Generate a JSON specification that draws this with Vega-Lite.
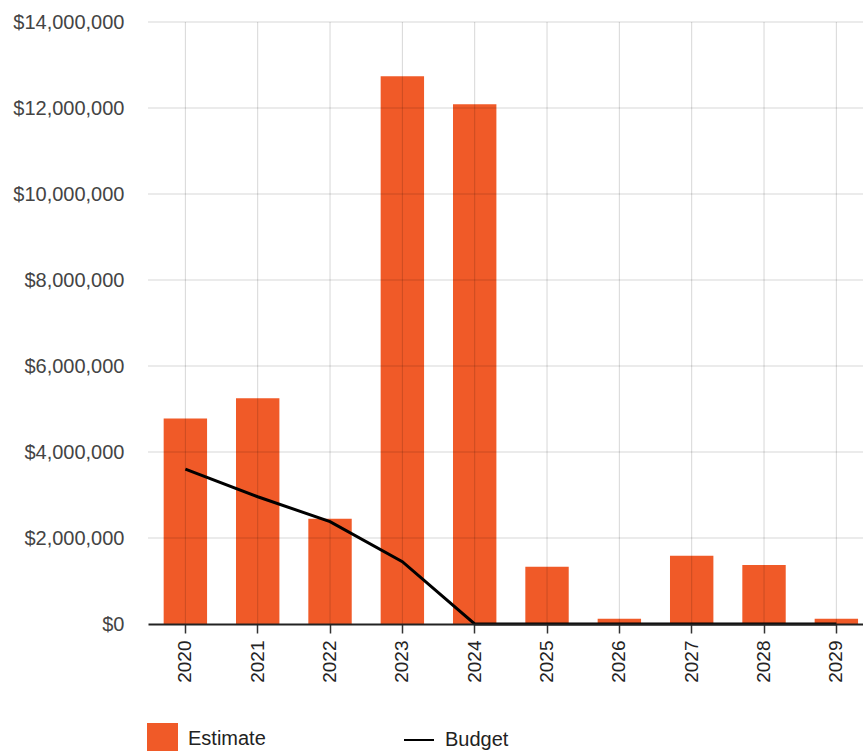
{
  "$schema": "https://vega.github.io/schema/vega-lite/v6.json",
  "autosize": {"type": "none"},
  "padding": {"left": 148, "top": 22, "right": 0, "bottom": 127},
  "width": 715,
  "height": 602,
  "background": "white",
  "config": {
    "font": "Liberation Sans",
    "view": {"stroke": null},
    "legend": {"padding": 0, "titlePadding": 0}
  },
  "datasets": {
    "spend": [
      {"year": "2020", "Estimate": 4780000, "Budget": 3600000},
      {"year": "2021", "Estimate": 5250000, "Budget": 2960000},
      {"year": "2022", "Estimate": 2450000, "Budget": 2380000},
      {"year": "2023", "Estimate": 12740000, "Budget": 1450000},
      {"year": "2024", "Estimate": 12090000, "Budget": 0},
      {"year": "2025", "Estimate": 1330000, "Budget": 0},
      {"year": "2026", "Estimate": 120000, "Budget": 0},
      {"year": "2027", "Estimate": 1590000, "Budget": 0},
      {"year": "2028", "Estimate": 1370000, "Budget": 0},
      {"year": "2029", "Estimate": 120000, "Budget": 0}
    ],
    "gridValues": [
      {"v": 2000000}, {"v": 4000000}, {"v": 6000000}, {"v": 8000000},
      {"v": 10000000}, {"v": 12000000}, {"v": 14000000}
    ]
  },
  "data": {"name": "spend"},
  "encoding": {
    "x": {
      "field": "year",
      "type": "nominal",
      "sort": null,
      "scale": {"paddingInner": 0.4, "paddingOuter": 0.1425, "align": 0.76},
      "axis": {
        "title": null,
        "labelAngle": -90,
        "labelFontSize": 19,
        "labelColor": "#222",
        "labelPadding": 7,
        "bandPosition": 0.5,
        "grid": false,
        "ticks": true,
        "tickSize": 9,
        "tickWidth": 1.5,
        "tickColor": "#333",
        "domain": true,
        "domainColor": "#222",
        "domainWidth": 2,
        "zindex": 1
      }
    }
  },
  "layer": [
    {
      "mark": {"type": "bar"},
      "encoding": {
        "y": {
          "field": "Estimate",
          "type": "quantitative",
          "scale": {"domain": [0, 14000000], "nice": false},
          "axis": {
            "title": null,
            "values": [0, 2000000, 4000000, 6000000, 8000000, 10000000, 12000000, 14000000],
            "format": "$,.0f",
            "labelFontSize": 20,
            "labelColor": "#444",
            "labelPadding": 24,
            "ticks": false,
            "domain": false,
            "grid": false
          }
        },
        "fill": {
          "datum": "Estimate",
          "scale": {"range": ["#F05A28"]},
          "legend": {
            "title": null,
            "orient": "none",
            "legendX": -1,
            "legendY": 701,
            "symbolType": "square",
            "symbolSize": 961,
            "symbolStrokeWidth": 0,
            "labelFontSize": 20,
            "labelColor": "#222",
            "labelOffset": 10
          }
        }
      }
    },
    {
      "mark": {"type": "rule", "color": "#000", "opacity": 0.16, "strokeWidth": 1},
      "encoding": {}
    },
    {
      "data": {"name": "gridValues"},
      "mark": {"type": "rule", "color": "#000", "opacity": 0.16, "strokeWidth": 1},
      "encoding": {
        "y": {"field": "v", "type": "quantitative"},
        "x": {"value": 0},
        "x2": {"value": 730}
      }
    },
    {
      "mark": {"type": "line", "strokeWidth": 3},
      "encoding": {
        "y": {"field": "Budget", "type": "quantitative"},
        "stroke": {
          "datum": "Budget",
          "scale": {"range": ["#000000"]},
          "legend": {
            "title": null,
            "orient": "none",
            "legendX": 255,
            "legendY": 702,
            "symbolType": "stroke",
            "symbolSize": 900,
            "symbolStrokeWidth": 2,
            "labelFontSize": 20,
            "labelColor": "#222",
            "labelOffset": 10
          }
        }
      }
    }
  ]
}
